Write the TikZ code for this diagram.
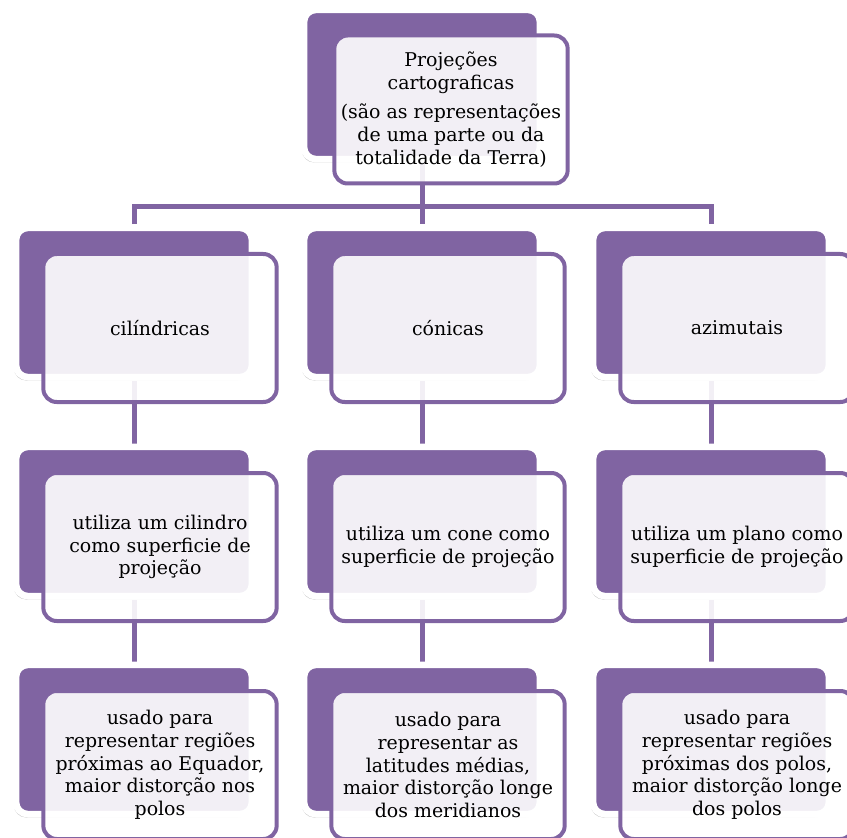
\documentclass[tikz,border=0pt]{standalone}
\usepackage{fontspec}
\setmainfont{DejaVu Serif}
\usetikzlibrary{shadows,backgrounds}
\definecolor{mauve}{HTML}{8064A2}
\tikzset{
	backbox/.style={rectangle, rounded corners=9pt, fill=mauve, draw=white, line width=5pt,
		minimum width=177pt, minimum height=112pt, inner sep=0pt,
		drop shadow={shadow xshift=-1.5pt, shadow yshift=-2.5pt, opacity=0.3, fill=black!70}},
	frontbox/.style={rectangle, rounded corners=10pt, draw=mauve, line width=3pt,
		fill=white, fill opacity=0.9, text opacity=1,
		minimum width=175pt, minimum height=111pt, inner sep=0pt,
		align=center, font=\fontsize{14.2}{17}\selectfont},
	link/.style={draw=mauve, line width=3.75pt}
}
\begin{document}
\begin{tikzpicture}[x=0.75pt,y=-0.75pt]
	\useasboundingbox (0,0) rectangle (847,838);
	
	%Top Box
	\node[backbox] (proj-b) at (422,84.5) {};
	\node[frontbox] (proj) at (451,109.5) {Projeções\\cartograficas\\[5pt](são as representações\\de uma parte ou da\\totalidade da Terra)};
	
	%1st Row of Boxes
	\node[backbox] (cil-b) at (134,302.5) {};
	\node[frontbox] (cil) at (160,328) {cilíndricas};
	\node[backbox] (con-b) at (422,302.5) {};
	\node[frontbox] (con) at (448,328) {cónicas};
	\node[backbox] (azi-b) at (711,302.5) {};
	\node[frontbox] (azi) at (737,328) {azimutais};
	
	%2nd Row of Boxes
	\node[backbox] (cilsup-b) at (134,521.5) {};
	\node[frontbox] (cilsup) at (160,547) {utiliza um cilindro\\como superficie de\\projeção};
	\node[backbox] (consup-b) at (422,521.5) {};
	\node[frontbox] (consup) at (448,547) {utiliza um cone como\\superficie de projeção};
	\node[backbox] (azisup-b) at (711,521.5) {};
	\node[frontbox] (azisup) at (737,547) {utiliza um plano como\\superficie de projeção};
	
	%Bottom Row of Boxes
	\node[backbox] (ciluso-b) at (134,739.5) {};
	\node[frontbox] (ciluso) at (160,765) {usado para\\representar regiões\\próximas ao Equador,\\maior distorção nos\\polos};
	\node[backbox] (conuso-b) at (422,739.5) {};
	\node[frontbox] (conuso) at (448,765) {usado para\\representar as\\latitudes médias,\\maior distorção longe\\dos meridianos};
	\node[backbox] (aziuso-b) at (711,739.5) {};
	\node[frontbox] (aziuso) at (737,765) {usado para\\representar regiões\\próximas dos polos,\\maior distorção longe\\dos polos};
	
	%Connectors
	\begin{scope}[on background layer]
		\coordinate (fork) at (422,207);
		\draw[link] (proj-b.south) -- (fork);
		\draw[link] (cil-b.north) |- (fork) -| (azi-b.north);
		\draw[link] (fork) -- (con-b.north);
		\foreach \a/\b in {cil/cilsup,cilsup/ciluso,con/consup,consup/conuso,azi/azisup,azisup/aziuso}
		\draw[link] (\a-b) -- (\b-b);
	\end{scope}
\end{tikzpicture}
\end{document}
